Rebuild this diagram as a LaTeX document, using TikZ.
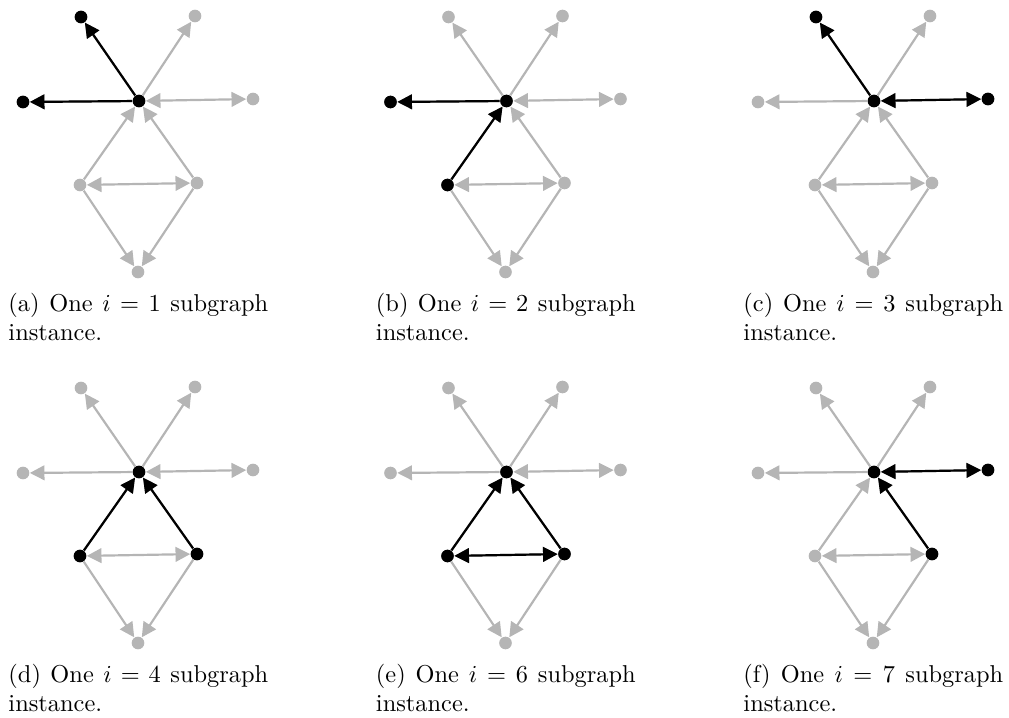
\documentclass[tikz,border=0pt]{standalone}
\usepackage{amsmath}
\usepackage{tikz}
\usetikzlibrary{arrows.meta}
\definecolor{cgray}{HTML}{B5B5B5}

\begin{document}
\begin{tikzpicture}[
  x=0.41pt, y=-0.41pt,
  vgray/.style={circle, fill=cgray, inner sep=0pt, minimum size=5.2pt},
  vblack/.style={circle, fill=black, inner sep=0pt, minimum size=5.2pt},
  egray/.style={draw=cgray, line width=0.9pt, -{Triangle[length=6pt,width=6pt]}},
  egraytwo/.style={egray, {Triangle[length=6pt,width=6pt]}-{Triangle[length=6pt,width=6pt]}},
  eblack/.style={draw=black, line width=0.9pt, -{Triangle[length=6pt,width=6pt]}},
  eblacktwo/.style={eblack, {Triangle[length=6pt,width=6pt]}-{Triangle[length=6pt,width=6pt]}},
  subcap/.style={anchor=base west, inner sep=0pt, text width=106.5pt, align=justify, font=\normalsize}
]
\useasboundingbox (0,0) rectangle (1009,718);

% the same graph in every panel, all grey
\foreach \p/\i/\dx/\dy in {a/1/0/0, b/2/367.5/0, c/3/735/0, d/4/0/371, e/6/367.5/371, f/7/735/371}{
  \begin{scope}[shift={(\dx,\dy)}]
    \node[vgray] (\p-c)  at (139,101) {};
    \node[vgray] (\p-tl) at (81,17) {};
    \node[vgray] (\p-tr) at (195,16) {};
    \node[vgray] (\p-l)  at (23,102) {};
    \node[vgray] (\p-r)  at (253,99) {};
    \node[vgray] (\p-bl) at (80,185) {};
    \node[vgray] (\p-br) at (197,183) {};
    \node[vgray] (\p-b)  at (138,272) {};
    \draw[egray] (\p-c) -- (\p-tl);
    \draw[egray] (\p-c) -- (\p-tr);
    \draw[egray] (\p-c) -- (\p-l);
    \draw[egraytwo] (\p-c) -- (\p-r);
    \draw[egray] (\p-bl) -- (\p-c);
    \draw[egray] (\p-br) -- (\p-c);
    \draw[egraytwo] (\p-bl) -- (\p-br);
    \draw[egray] (\p-bl) -- (\p-b);
    \draw[egray] (\p-br) -- (\p-b);
    \node[subcap] (\p-cap) at (8,311.7) {(\p) One $i=\i$ subgraph instance.};
  \end{scope}
}

% (a) i = 1
\node[vblack] (a-c-on) at (a-c) {};
\node[vblack] (a-tl-on) at (a-tl) {};
\node[vblack] (a-l-on) at (a-l) {};
\draw[eblack] (a-c-on) -- (a-tl-on);
\draw[eblack] (a-c-on) -- (a-l-on);

% (b) i = 2
\node[vblack] (b-c-on) at (b-c) {};
\node[vblack] (b-l-on) at (b-l) {};
\node[vblack] (b-bl-on) at (b-bl) {};
\draw[eblack] (b-c-on) -- (b-l-on);
\draw[eblack] (b-bl-on) -- (b-c-on);

% (c) i = 3
\node[vblack] (c-c-on) at (c-c) {};
\node[vblack] (c-tl-on) at (c-tl) {};
\node[vblack] (c-r-on) at (c-r) {};
\draw[eblack] (c-c-on) -- (c-tl-on);
\draw[eblacktwo] (c-c-on) -- (c-r-on);

% (d) i = 4
\node[vblack] (d-c-on) at (d-c) {};
\node[vblack] (d-bl-on) at (d-bl) {};
\node[vblack] (d-br-on) at (d-br) {};
\draw[eblack] (d-bl-on) -- (d-c-on);
\draw[eblack] (d-br-on) -- (d-c-on);

% (e) i = 6
\node[vblack] (e-c-on) at (e-c) {};
\node[vblack] (e-bl-on) at (e-bl) {};
\node[vblack] (e-br-on) at (e-br) {};
\draw[eblack] (e-bl-on) -- (e-c-on);
\draw[eblack] (e-br-on) -- (e-c-on);
\draw[eblacktwo] (e-bl-on) -- (e-br-on);

% (f) i = 7
\node[vblack] (f-c-on) at (f-c) {};
\node[vblack] (f-r-on) at (f-r) {};
\node[vblack] (f-br-on) at (f-br) {};
\draw[eblacktwo] (f-c-on) -- (f-r-on);
\draw[eblack] (f-br-on) -- (f-c-on);

\end{tikzpicture}
\end{document}
